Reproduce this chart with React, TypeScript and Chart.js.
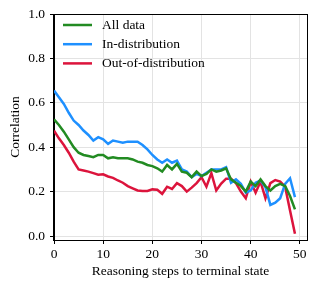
import { useEffect, useRef } from 'react';
import { Chart, registerables } from 'chart.js';

Chart.register(...registerables);

const steps = [
  0, 1, 2, 3, 4, 5, 6, 7, 8, 9, 10, 11, 12, 13, 14, 15, 16, 17, 18, 19, 20, 21, 22, 23, 24,
  25, 26, 27, 28, 29, 30, 31, 32, 33, 34, 35, 36, 37, 38, 39, 40, 41, 42, 43, 44, 45, 46, 47, 48, 49,
];

const allData = [
  0.525, 0.5, 0.47, 0.435, 0.4, 0.375, 0.365, 0.36, 0.355, 0.365,
  0.365, 0.35, 0.355, 0.35, 0.35, 0.35, 0.345, 0.335, 0.33, 0.32,
  0.315, 0.305, 0.29, 0.32, 0.3, 0.325, 0.29, 0.285, 0.265, 0.29,
  0.27, 0.28, 0.3, 0.29, 0.295, 0.305, 0.255, 0.24, 0.225, 0.2,
  0.245, 0.225, 0.255, 0.225, 0.205, 0.225, 0.235, 0.225, 0.18, 0.12,
];

const inDist = [
  0.655, 0.625, 0.595, 0.555, 0.52, 0.5, 0.475, 0.455, 0.43, 0.445,
  0.435, 0.415, 0.43, 0.425, 0.42, 0.425, 0.425, 0.425, 0.41, 0.39,
  0.365, 0.345, 0.33, 0.345, 0.33, 0.34, 0.3, 0.29, 0.265, 0.28,
  0.27, 0.285, 0.3, 0.3, 0.3, 0.31, 0.24, 0.255, 0.235, 0.195,
  0.205, 0.24, 0.25, 0.22, 0.14, 0.15, 0.17, 0.235, 0.26, 0.175,
];

const outDist = [
  0.475, 0.44, 0.41, 0.375, 0.335, 0.3, 0.295, 0.29, 0.283, 0.276,
  0.278, 0.268, 0.262, 0.25, 0.24, 0.225, 0.215, 0.205, 0.203, 0.203,
  0.21, 0.208, 0.19, 0.222, 0.212, 0.238, 0.225, 0.2, 0.218, 0.238,
  0.265, 0.222, 0.283, 0.205, 0.236, 0.258, 0.258, 0.238, 0.2, 0.17,
  0.245, 0.195, 0.245, 0.17, 0.238, 0.252, 0.245, 0.222, 0.115, 0.01,
];

const seriesLabels = ['All data', 'In-distribution', 'Out-of-distribution'];
const seriesColors = ['#228B22', '#1E90FF', '#DC143C'];
const xTicks = [0, 10, 20, 30, 40, 50];
const yTicks = [0, 0.2, 0.4, 0.6, 0.8, 1.0];

const FONT = '"Liberation Serif", "Times New Roman", serif';
const FS = 13.5;

const framePlugin = {
  id: 'frame',
  afterDatasetsDraw(chart: any) {
    const { ctx, chartArea } = chart;
    ctx.save();
    ctx.strokeStyle = '#000';
    ctx.lineWidth = 1;
    ctx.strokeRect(
      Math.round(chartArea.left) - 0.5,
      Math.round(chartArea.top) + 0.5,
      Math.round(chartArea.right - chartArea.left) + 1,
      Math.round(chartArea.bottom - chartArea.top)
    );
    ctx.restore();
  },
};

const legendPlugin = {
  id: 'insideLegend',
  afterDraw(chart: any) {
    const { ctx, chartArea } = chart;
    const { left, top } = chartArea;
    ctx.save();
    ctx.font = `${FS}px ${FONT}`;
    chart.data.datasets.forEach((ds: any, i: number) => {
      const y = top + 11 + i * 19.2;
      ctx.strokeStyle = ds.borderColor;
      ctx.lineWidth = 2.5;
      ctx.beginPath();
      ctx.moveTo(left + 9, y);
      ctx.lineTo(left + 38, y);
      ctx.stroke();
      ctx.fillStyle = '#000';
      ctx.textBaseline = 'middle';
      ctx.textAlign = 'left';
      ctx.fillText(ds.label, left + 48, y);
    });
    ctx.restore();
  },
};

export default function App() {
  const ref = useRef<HTMLCanvasElement | null>(null);

  useEffect(() => {
    document.body.style.margin = '0';
    if (!ref.current) return;
    const series = [allData, inDist, outDist];
    const chart = new Chart(ref.current, {
      type: 'line',
      data: {
        datasets: series.map((vals, i) => ({
          label: seriesLabels[i],
          data: steps.map((s, j) => ({ x: s, y: vals[j] })),
          borderColor: seriesColors[i],
          backgroundColor: seriesColors[i],
          borderWidth: 2.5,
          pointRadius: 0,
          tension: 0,
          fill: false,
        })),
      },
      options: {
        animation: false,
        responsive: false,
        layout: { padding: { top: 14, right: 10, left: 0, bottom: 0 } },
        plugins: {
          legend: { display: false },
          tooltip: { enabled: false },
        },
        scales: {
          x: {
            type: 'linear',
            min: 0,
            max: 51.45,
            afterBuildTicks: (s: any) => {
              s.ticks = xTicks.map((v) => ({ value: v }));
            },
            afterFit: (s: any) => {
              s.height = 48;
            },
            ticks: {
              font: { family: FONT, size: FS },
              color: '#000',
              padding: 2,
              maxRotation: 0,
              callback: (v: any) => String(v),
            },
            grid: { color: '#e3e3e3', tickColor: '#000', tickLength: 4, lineWidth: 1 },
            border: { color: '#000', width: 1 },
            title: {
              display: true,
              text: 'Reasoning steps to terminal state',
              font: { family: FONT, size: FS },
              color: '#000',
              padding: { top: 4, bottom: 8 },
            },
          },
          y: {
            type: 'linear',
            min: -0.018,
            max: 1.0,
            afterBuildTicks: (s: any) => {
              s.ticks = yTicks.map((v) => ({ value: v }));
            },
            afterFit: (s: any) => {
              s.width = 54;
            },
            ticks: {
              font: { family: FONT, size: FS },
              color: '#000',
              padding: 5,
              callback: (v: any) => Number(v).toFixed(1),
            },
            grid: { color: '#e3e3e3', tickColor: '#000', tickLength: 4, lineWidth: 1 },
            border: { color: '#000', width: 1 },
            title: {
              display: true,
              text: 'Correlation',
              font: { family: FONT, size: FS },
              color: '#000',
              padding: { top: 7, bottom: 4 },
            },
          },
        },
      },
      plugins: [framePlugin, legendPlugin],
    });
    return () => chart.destroy();
  }, []);

  return (
    <div style={{ width: 317, height: 288 }}>
      <canvas ref={ref} width={317} height={288} style={{ display: 'block' }} />
    </div>
  );
}
